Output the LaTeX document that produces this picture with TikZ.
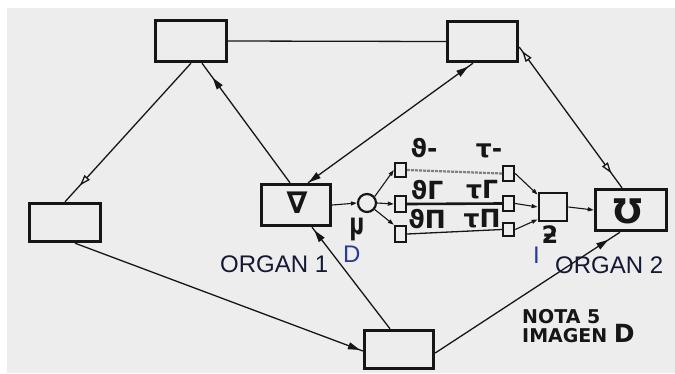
\documentclass[tikz,border=0pt]{standalone}
\usepackage{fontspec}
\setmainfont{Liberation Sans}
\newfontfamily\dv{DejaVu Sans}
\usetikzlibrary{arrows.meta,decorations.markings,calc}
\definecolor{paper}{HTML}{EDEDED}
\definecolor{ink}{HTML}{161616}
\definecolor{navy}{HTML}{141833}
\definecolor{blu}{HTML}{2A3A9C}
\begin{document}
\begin{tikzpicture}[x=1pt,y=-1pt,
  bigbox/.style={draw=ink, line width=3.4pt, inner sep=0pt},
  smallbox/.style={draw=ink, line width=2.4pt, inner sep=0pt, minimum width=11pt},
  conn/.style={draw=ink, line width=1.3pt},
  tipend/.style={postaction={decorate,decoration={markings,mark=at position #1 with {\arrow{Triangle[length=12pt,width=7pt]}}}}},
  tipstart/.style={postaction={decorate,decoration={markings,mark=at position #1 with {\arrow{Triangle[length=12pt,width=7pt,reversed]}}}}},
  openend/.style={postaction={decorate,decoration={markings,mark=at position #1 with {\arrow{Triangle[open,length=11pt,width=7pt,fill=paper]}}}}},
  openstart/.style={postaction={decorate,decoration={markings,mark=at position #1 with {\arrow{Triangle[open,length=11pt,width=7pt,fill=paper,reversed]}}}}},
  tiny/.style={draw=ink, line width=1.1pt, -{Triangle[length=6pt,width=4pt]}},
  glyph/.style={inner sep=0pt, text=ink, font=\dv\bfseries\fontsize{25}{25}\selectfont},
  organ/.style={inner sep=0pt, anchor=base west, text=navy, font=\fontsize{24}{24}\selectfont},
  letterlab/.style={inner sep=0pt, anchor=base west, text=blu, font=\fontsize{24}{24}\selectfont},
  notelab/.style={inner sep=0pt, anchor=base west, text=ink, font=\dv\bfseries\fontsize{19}{19}\selectfont}
]
\useasboundingbox (0,0) rectangle (675,373);
\fill[white] (0,0) rectangle (675,373);
\fill[paper] (7,8) rectangle (675,373);

% big boxes
\node[bigbox, minimum width=71pt, minimum height=41pt] (A) at (191,41) {};
\node[bigbox, minimum width=70pt, minimum height=40pt] (B) at (482.5,41.5) {};
\node[bigbox, minimum width=71pt, minimum height=38pt] (C) at (65,222.5) {};
\node[bigbox, minimum width=69pt, minimum height=38pt] (E) at (399,349.5) {};
\node[bigbox, minimum width=69pt, minimum height=41pt] (O1) at (296,205) {};
\node[bigbox, minimum width=71pt, minimum height=41pt] (O2) at (631,210) {};
\node[draw=ink, line width=2.8pt, inner sep=0pt, minimum width=28pt, minimum height=28pt] (I) at (553,207) {};
\node[circle, draw=ink, line width=2.2pt, minimum size=18pt, inner sep=0pt] (c) at (367,203) {};

% small boxes
\node[smallbox, minimum height=14pt] (lt) at (400.5,170) {};
\node[smallbox, minimum height=16pt] (lm) at (400.5,204) {};
\node[smallbox, minimum height=16pt] (lb) at (400.5,234) {};
\node[smallbox, minimum height=15pt] (rt) at (508.5,173.5) {};
\node[smallbox, minimum height=15pt] (rm) at (508.5,203.5) {};
\node[smallbox, minimum height=13pt] (rb) at (508.5,229.5) {};

% outer connectors
\draw[conn] (A.east) -- (B.west);
\draw[conn, openend=-22pt] (A.south) -- (C.north);
\draw[conn, tipend=-18pt] ([xshift=-6pt]O1.north) -- ([xshift=11pt]A.south);
\draw[conn, tipstart=18pt, tipend=-1pt] ([xshift=-9.5pt]B.south) -- ([xshift=12pt]O1.north);
\draw[conn, openstart=16pt, openend=-18pt] ([yshift=-5.5pt]B.east) -- ([xshift=-9pt]O2.north);
\draw[conn, tipend=-3pt] ([xshift=10pt]C.south) -- ([yshift=-1.5pt]E.west);
\draw[conn, tipend=-4pt] ([xshift=-9pt]E.north) -- ([xshift=16pt]O1.south);
\draw[conn, tipend=-14pt] ([yshift=-3.5pt]E.east) -- ([xshift=-11pt]O2.south);

% inner channel
\draw[tiny] (O1.east) -- (c.west);
\draw[tiny] (c.40) -- (lt.west);
\draw[tiny] (c.east) -- (lm.west);
\draw[tiny] (c.-40) -- (lb.north west);
\draw[draw=gray, line width=2.2pt, dash pattern=on 3pt off 1pt] (lt.east) -- (rt.west);
\draw[draw=ink, line width=2.6pt] (lm.east) -- (rm.west);
\draw[conn] (lb.east) -- (rb.west);
\draw[tiny] (rt.east) -- ([yshift=-3pt]I.north west);
\draw[tiny] (rm.east) -- (I.west);
\draw[tiny] (rb.east) -- ([yshift=3pt]I.south west);
\draw[tiny] (I.east) -- (O2.west);

% glyphs
\node[glyph] (g1) at (424,148) {ϑ-};
\node[glyph] (g2) at (489,151) {τ-};
\node[glyph] (g3) at (427,190) {ϑΓ};
\node[glyph] (g4) at (482,190) {τΓ};
\node[glyph] (g5) at (427,219) {ϑП};
\node[glyph] (g6) at (482,219) {τП};
\node[glyph, font=\dv\bfseries\fontsize{30}{30}\selectfont] (gO1) at (297,203) {∇};
\node[glyph, font=\dv\bfseries\fontsize{34}{34}\selectfont] (gO2) at (628,211) {Ʊ};
\node[glyph, font=\dv\bfseries\fontsize{30}{30}\selectfont] (gD) at (357,229) {\scalebox{-0.7}[1]{ɥ}};
\node[glyph, font=\dv\bfseries\fontsize{24}{24}\selectfont] (gI) at (550,235) {ƻ};

% labels
\node[organ] (lab1) at (220,272) {ORGAN 1};
\node[organ] (lab2) at (555,273) {ORGAN 2};
\node[letterlab] (labD) at (343,262) {D};
\node[letterlab] (labI) at (533,263) {I};
\node[notelab] (n1) at (522,323) {NOTA 5};
\node[notelab] (n2) at (522,342) {IMAGEN {\fontsize{25}{25}\selectfont D}};
\end{tikzpicture}
\end{document}
